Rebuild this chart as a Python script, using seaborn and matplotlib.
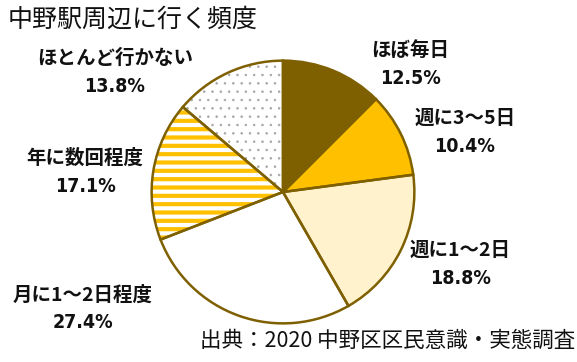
import matplotlib
matplotlib.use("Agg")
import matplotlib.pyplot as plt
from matplotlib.patches import Wedge
import seaborn as sns

sns.set_theme(style="white")
plt.rcParams["font.family"] = ["Noto Sans CJK JP", "DejaVu Sans"]

# Survey answers: how often respondents go to the Nakano station area
categories = ["ほぼ毎日", "週に3～5日", "週に1～2日", "月に1～2日程度", "年に数回程度", "ほとんど行かない"]
shares = [12.5, 10.4, 18.8, 27.4, 17.1, 13.8]

title = "中野駅周辺に行く頻度"
source = "出典：2020 中野区区民意識・実態調査"

face_colors = ["#7F6000", "#FFC000", "#FFF2CC", "#FFFFFF", "#FFFFFF", "#FFFFFF"]
hatches = [None, None, None, None, "--", ".."]
hatch_colors = [None, None, None, None, "#FFC000", "#A8A8A8"]
hatch_widths = [None, None, None, None, 3.0, 0.6]
edge_color = "#7F6000"

# label anchor points (pixels from top-left) for each wedge
label_xy = [(410, 50), (465, 118), (460, 250), (83, 295), (85, 158), (115, 58)]

W, H, DPI = 577, 362, 100
fig = plt.figure(figsize=(W / DPI, H / DPI), dpi=DPI)

cx, cy, R = 283, 192, 134
ax = fig.add_axes([(cx - R) / W, (H - cy - R) / H, 2 * R / W, 2 * R / H])
ax.axis("off")

pie_kw = dict(startangle=90, counterclock=False, radius=1.0)

# base fill
wedges, _ = ax.pie(shares, colors=face_colors, wedgeprops=dict(linewidth=0), **pie_kw)

# pattern layers
for w, h, hc, hw in zip(wedges, hatches, hatch_colors, hatch_widths):
    if h is None:
        continue
    plt.rcParams["hatch.linewidth"] = hw
    pw = Wedge(w.center, w.r, w.theta1, w.theta2, facecolor="none",
               edgecolor=hc, hatch=h, linewidth=0)
    if hasattr(pw, "set_hatch_linewidth"):
        pw.set_hatch_linewidth(hw)
    ax.add_patch(pw)

# outlines
ax.pie(shares, colors=["none"] * len(shares),
       wedgeprops=dict(linewidth=1.8, edgecolor=edge_color, fill=False), **pie_kw)
ax.set_xlim(-1.02, 1.02)
ax.set_ylim(-1.02, 1.02)

for cat, val, (lx, ly) in zip(categories, shares, label_xy):
    fig.text(lx / W, 1 - ly / H, cat, ha="center", va="center", fontsize=14,
             fontweight="bold", color="#111111")
    fig.text(lx / W, 1 - (ly + 28) / H, f"{val:.1f}%", ha="center", va="center",
             fontsize=14, fontweight="bold", fontstretch="condensed",
             family=["DejaVu Sans"], color="#111111")

fig.text(8 / W, 1 - 20 / H, title, ha="left", va="center", fontsize=18, color="#111111")
fig.text(575 / W, 1 - 341 / H, source, ha="right", va="center", fontsize=15.5, color="#111111")

fig.savefig("out.png", dpi=DPI)
